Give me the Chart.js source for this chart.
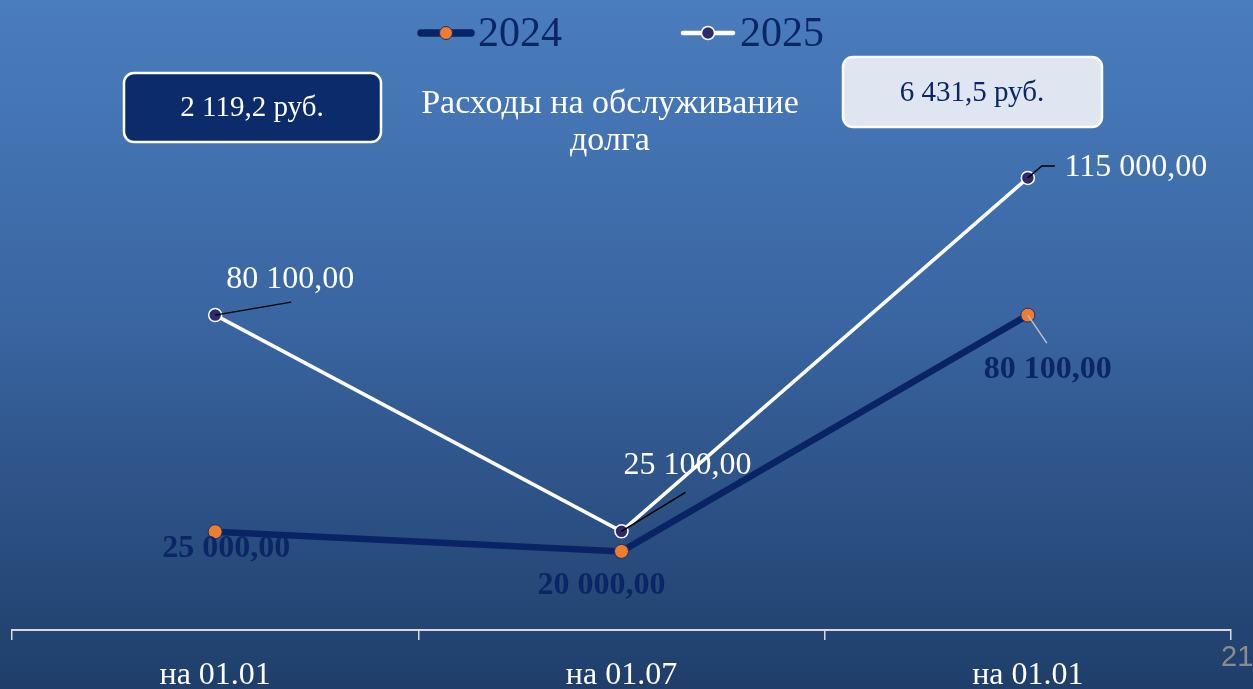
<!DOCTYPE html>
<html lang="ru">
<head>
<meta charset="UTF-8">
<title>Расходы на обслуживание долга</title>
<style>
  html, body { margin: 0; padding: 0; background: #2f5a92; overflow: hidden; }
  #wrap { width: 1253px; height: 689px; }
</style>
</head>
<body>
<div id="wrap"><canvas id="chart" width="1253" height="689"></canvas></div>
<script src="https://cdn.jsdelivr.net/npm/chart.js"></script>
<script>
// data
const categories = ['на 01.01', 'на 01.07', 'на 01.01'];
const seriesNames = ['2024', '2025'];
const values2024 = [25000, 20000, 80100];
const values2025 = [80100, 25100, 115000];
const totals = ['2 119,2 руб.', '6 431,5 руб.'];
const titleLines = ['Расходы на обслуживание', 'долга'];
const pageNumber = '21';

const SERIF = "'Liberation Serif', 'DejaVu Serif', serif";
const NAVY = '#0b2565';

function fmt(v) {
    let s = v.toFixed(2).split('.');
    return s[0].replace(/\B(?=(\d{3})+(?!\d))/g, ' ') + ',' + s[1];
}

// label placement relative to each point: [dx, dy, leader points...]
const labelStyle = [
    { color: NAVY, weight: 'bold', size: 32, leader: '#bfbfbf',
      pos: [[11, 17, null], [-20, 34, null], [20, 55, [[19, 28]]]] },
    { color: '#ffffff', weight: 'normal', size: 32, leader: '#000000',
      pos: [[75, -36, [[76, -13]]], [66, -66, [[64, -39]]], [108, -10, [[14, -12], [27, -12]]]] }
];

function roundRect(ctx, x, y, w, h, r) {
    ctx.beginPath();
    ctx.moveTo(x + r, y);
    ctx.arcTo(x + w, y, x + w, y + h, r);
    ctx.arcTo(x + w, y + h, x, y + h, r);
    ctx.arcTo(x, y + h, x, y, r);
    ctx.arcTo(x, y, x + w, y, r);
    ctx.closePath();
}

const background = {
    id: 'background',
    beforeDraw(chart) {
        const ctx = chart.ctx;
        const g = ctx.createLinearGradient(0, 0, 0, chart.height);
        g.addColorStop(0, '#4a7dbe');
        g.addColorStop(0.45, '#3a66a2');
        g.addColorStop(1, '#1f3e6a');
        ctx.save();
        ctx.fillStyle = g;
        ctx.fillRect(0, 0, chart.width, chart.height);
        ctx.restore();
    }
};

const decorations = {
    id: 'decorations',
    afterDraw(chart) {
        const ctx = chart.ctx;
        ctx.save();

        // legend
        const legendX = [418, 680];
        chart.data.datasets.forEach((ds, i) => {
            const x = legendX[i], y = 33;
            ctx.strokeStyle = ds.borderColor;
            ctx.lineWidth = ds.borderWidth + 1;
            ctx.lineCap = 'round';
            ctx.beginPath();
            ctx.moveTo(x + 3, y);
            ctx.lineTo(x + 53, y);
            ctx.stroke();
            ctx.beginPath();
            ctx.arc(x + 28, y, 6.5, 0, Math.PI * 2);
            ctx.fillStyle = ds.pointBackgroundColor;
            ctx.fill();
            ctx.lineWidth = ds.pointBorderWidth;
            ctx.strokeStyle = ds.pointBorderColor;
            ctx.stroke();
            ctx.fillStyle = NAVY;
            ctx.font = '42px ' + SERIF;
            ctx.textAlign = 'left';
            ctx.textBaseline = 'middle';
            ctx.fillText(ds.label, x + 60, y + 2);
        });

        // title
        ctx.fillStyle = '#ffffff';
        ctx.font = '34px ' + SERIF;
        ctx.textAlign = 'center';
        ctx.textBaseline = 'middle';
        ctx.fillText(titleLines[0], 610, 104);
        ctx.fillText(titleLines[1], 610, 141);

        // totals boxes
        roundRect(ctx, 124, 73, 257, 69, 10);
        ctx.fillStyle = '#0b2b6a';
        ctx.fill();
        ctx.lineWidth = 2.5;
        ctx.strokeStyle = '#ffffff';
        ctx.stroke();
        ctx.fillStyle = '#ffffff';
        ctx.font = '29px ' + SERIF;
        ctx.fillText(totals[0], 252, 108);

        roundRect(ctx, 843, 57, 259, 70, 10);
        ctx.fillStyle = '#dfe6f1';
        ctx.fill();
        ctx.stroke();
        ctx.fillStyle = NAVY;
        ctx.fillText(totals[1], 972, 93);

        // page number
        ctx.fillStyle = '#8c8c8c';
        ctx.font = "29px 'Liberation Sans Narrow', 'Liberation Sans', sans-serif";
        ctx.textAlign = 'left';
        ctx.fillText(pageNumber, 1221, 658);

        ctx.restore();
    }
};

const valueLabels = {
    id: 'valueLabels',
    afterDatasetsDraw(chart) {
        const ctx = chart.ctx;
        ctx.save();
        chart.data.datasets.forEach((ds, i) => {
            const st = labelStyle[i];
            chart.getDatasetMeta(i).data.forEach((pt, j) => {
                const [dx, dy, leader] = st.pos[j];
                if (leader) {
                    ctx.beginPath();
                    ctx.moveTo(pt.x, pt.y);
                    leader.forEach(p => ctx.lineTo(pt.x + p[0], pt.y + p[1]));
                    ctx.strokeStyle = st.leader;
                    ctx.lineWidth = 1.5;
                    ctx.stroke();
                }
                ctx.fillStyle = st.color;
                ctx.font = st.weight + ' ' + st.size + 'px ' + SERIF;
                ctx.textAlign = 'center';
                ctx.textBaseline = 'middle';
                ctx.fillText(fmt(ds.data[j]), pt.x + dx, pt.y + dy);
            });
        });
        ctx.restore();
    }
};

new Chart(document.getElementById('chart'), {
    type: 'line',
    data: {
        labels: categories,
        datasets: [
            {
                label: seriesNames[0],
                data: values2024,
                borderColor: '#0a2364',
                borderWidth: 6.5,
                pointRadius: 7,
                pointBackgroundColor: '#ed7d31',
                pointBorderColor: '#1b2f6b',
                pointBorderWidth: 1,
                tension: 0
            },
            {
                label: seriesNames[1],
                data: values2025,
                borderColor: '#ffffff',
                borderWidth: 3.5,
                pointRadius: 6.5,
                pointBackgroundColor: '#2e2a6b',
                pointBorderColor: '#ffffff',
                pointBorderWidth: 1.5,
                tension: 0
            }
        ]
    },
    options: {
        responsive: false,
        animation: false,
        layout: { padding: { top: 60, left: 12, right: 22, bottom: -23 } },
        plugins: {
            legend: { display: false },
            tooltip: { enabled: false }
        },
        scales: {
            x: {
                offset: true,
                grid: {
                    offset: true,
                    drawOnChartArea: false,
                    drawTicks: true,
                    tickLength: 10,
                    color: '#d9d9d9',
                    lineWidth: 1.5
                },
                border: { color: '#d9d9d9', width: 2 },
                ticks: {
                    color: '#ffffff',
                    padding: 20,
                    font: { family: SERIF, size: 32, lineHeight: 1 }
                }
            },
            y: {
                display: false,
                min: 0,
                max: 145000
            }
        }
    },
    plugins: [background, valueLabels, decorations]
});
</script>
</body>
</html>
